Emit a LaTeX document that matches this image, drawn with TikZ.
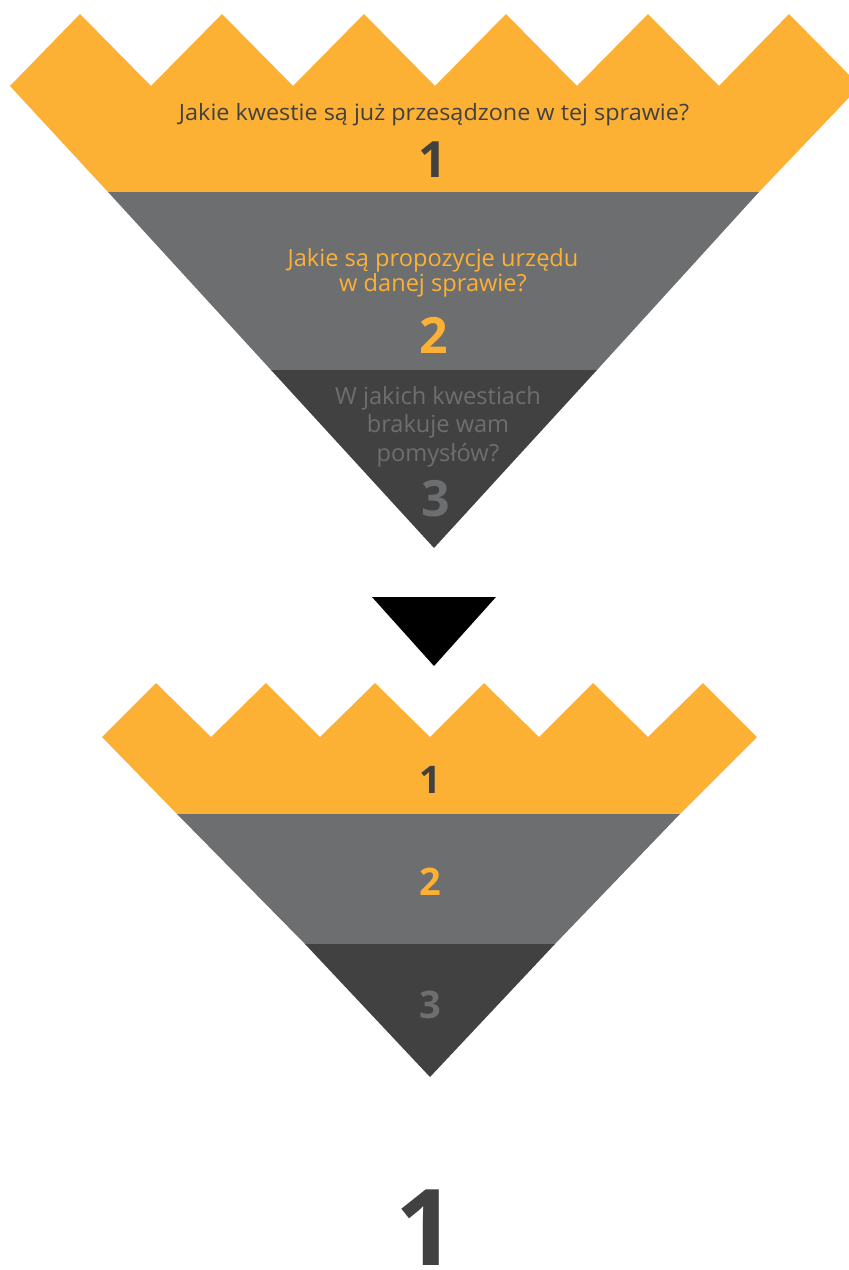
\documentclass[tikz,border=0pt]{standalone}
\usepackage{fontspec}
\setmainfont{Open Sans}
\definecolor{orangeF}{HTML}{FCB034}
\definecolor{grayM}{HTML}{6D6E70}
\definecolor{grayD}{HTML}{414142}
\begin{document}
\begin{tikzpicture}[x=1pt,y=-1pt,
  qtext/.style={inner sep=0pt,align=center},
  bignum/.style={inner sep=0pt,font=\fontsize{50}{50}\selectfont\bfseries},
  smallnum/.style={inner sep=0pt,font=\fontsize{38}{38}\selectfont\bfseries}]
\useasboundingbox (0,0) rectangle (849,1270);
\begin{scope}
\clip (0,0) rectangle (849,1270);
% top funnel
\fill[orangeF] (10,86) -- (80,14) -- (151,86) -- (222,14) -- (293,86) -- (364,14) -- (435,86) -- (506,14) -- (577,86) -- (648,14) -- (719,86) -- (789,14) -- (860,86) -- (759,192) -- (108,192) -- cycle;
\fill[grayM] (108,192) -- (759,192) -- (597,370) -- (271,370) -- cycle;
\fill[grayD] (271,370) -- (597,370) -- (434,548) -- cycle;
% arrow
\fill[black] (372,597) -- (496,597) -- (434,666) -- cycle;
% bottom funnel
\fill[orangeF] (102,737) -- (156,683) -- (211,737) -- (266,683) -- (320,737) -- (375,683) -- (430,737) -- (484,683) -- (539,737) -- (593,683) -- (648,737) -- (703,683) -- (757,737) -- (680,814) -- (177,814) -- cycle;
\fill[grayM] (177,814) -- (680,814) -- (555,944) -- (305,944) -- cycle;
\fill[grayD] (305,944) -- (555,944) -- (430,1077) -- cycle;
\end{scope}
% big 1
\node[inner sep=0pt,anchor=base,text depth=0pt,text=grayD,font=\fontsize{106}{106}\selectfont\bfseries] (big1) at (425.5,1265) {1};
% texts top
\node[qtext,text=grayD,font=\fontsize{22.5}{26}\selectfont] (q1) at (434,114.5) {\scalebox{1.04}[1]{Jakie kwestie są już przesądzone w tej sprawie?}};
\node[bignum,text=grayD] (n1) at (433,160) {1};
\node[qtext,text=orangeF,font=\fontsize{23.6}{25}\selectfont] (q2) at (433,273) {Jakie są propozycje urzędu\\w danej sprawie?};
\node[qtext,text=grayM,font=\fontsize{23.6}{28.5}\selectfont] (q3) at (438,426.5) {W jakich kwestiach\\brakuje wam\\pomysłów?};
\node[bignum,text=orangeF] (n2) at (434,335) {2};
\node[bignum,text=grayM] (n3) at (436,499) {3};
% bottom numbers
\node[smallnum,text=grayD] (m1) at (430,780) {1};
\node[smallnum,text=orangeF] (m2) at (430,882) {2};
\node[smallnum,text=grayM] (m3) at (430,1005) {3};
\end{tikzpicture}
\end{document}
